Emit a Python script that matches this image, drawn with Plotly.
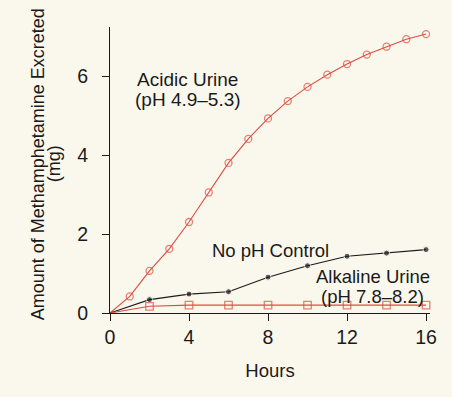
import plotly.graph_objects as go

# Data (hours, mg)
acid_hours = [0, 1, 2, 3, 4, 5, 6, 7, 8, 9, 10, 11, 12, 13, 14, 15, 16]
acid_mg = [0, 0.42, 1.07, 1.63, 2.31, 3.06, 3.81, 4.42, 4.94, 5.38, 5.74, 6.05, 6.32, 6.56, 6.76, 6.95, 7.08]

noctl_hours = [0, 2, 4, 6, 8, 10, 12, 14, 16]
noctl_mg = [0, 0.34, 0.48, 0.54, 0.91, 1.20, 1.44, 1.52, 1.61]

alk_hours = [0, 2, 4, 6, 8, 10, 12, 14, 16]
alk_mg = [0, 0.17, 0.20, 0.20, 0.20, 0.20, 0.20, 0.20, 0.20]

x_ticks = [0, 4, 8, 12, 16]
y_ticks = [0, 2, 4, 6]

RED = "#df4b40"
BLACK = "#1a1a1a"
BG = "#faf8ec"
FONT = "Liberation Sans, Arial, sans-serif"

def sizes(n, s):
    return [0] + [s] * (n - 1)

fig = go.Figure()
fig.add_trace(go.Scatter(
    x=acid_hours, y=acid_mg, mode="lines+markers",
    line=dict(color=RED, width=1.1),
    marker=dict(symbol="circle-open", size=sizes(len(acid_hours), 7),
                color=RED, line=dict(width=1.3, color=RED)),
    cliponaxis=False, showlegend=False))
fig.add_trace(go.Scatter(
    x=noctl_hours, y=noctl_mg, mode="lines+markers",
    line=dict(color=BLACK, width=1.1),
    marker=dict(symbol="circle", size=sizes(len(noctl_hours), 6), color=BLACK),
    cliponaxis=False, showlegend=False))
fig.add_trace(go.Scatter(
    x=alk_hours, y=alk_mg, mode="lines+markers",
    line=dict(color=RED, width=1.1),
    marker=dict(symbol="square-open", size=sizes(len(alk_hours), 7.5),
                color=RED, line=dict(width=1.3, color=RED)),
    cliponaxis=False, showlegend=False))

def label(text, x, y, size):
    fig.add_annotation(text=text, x=x, y=y, xref="x", yref="y",
                       xanchor="left", yanchor="middle", showarrow=False,
                       font=dict(family=FONT, size=size, color=BLACK))

label("Acidic Urine", 1.28, 5.93, 19)
label("(pH 4.9–5.3)", 1.18, 5.42, 19)
label("No pH Control", 5.05, 1.58, 18.5)
label("Alkaline Urine", 10.35, 0.93, 18.5)
label("(pH 7.8–8.2)", 10.6, 0.42, 18.5)

# y-axis title lines
fig.add_annotation(text="Amount of Methamphetamine Excreted", xref="paper", yref="paper",
                   x=-0.225, y=0.52, textangle=-90, showarrow=False,
                   xanchor="center", yanchor="middle",
                   font=dict(family=FONT, size=18, color=BLACK))
fig.add_annotation(text="(mg)", xref="paper", yref="paper",
                   x=-0.175, y=0.52, textangle=-90, showarrow=False,
                   xanchor="center", yanchor="middle",
                   font=dict(family=FONT, size=18, color=BLACK))

fig.update_layout(
    width=452, height=397,
    margin=dict(l=110, r=22, t=27, b=84),
    paper_bgcolor=BG, plot_bgcolor=BG,
    font=dict(family=FONT, size=19.5, color=BLACK),
    xaxis=dict(range=[0, 16.2], tickvals=x_ticks, ticks="outside", ticklen=7,
               tickwidth=1, tickcolor=BLACK, showline=True, linecolor=BLACK,
               linewidth=1, showgrid=False, zeroline=False,
               title=dict(text="Hours", font=dict(size=18.5), standoff=16)),
    yaxis=dict(range=[0, 7.26], tickvals=y_ticks, ticks="outside", ticklen=7,
               tickwidth=1, tickcolor=BLACK, showline=True, linecolor=BLACK,
               linewidth=1, showgrid=False, zeroline=False,
               ticklabelstandoff=10),
)

fig.write_html(
    "out.html",
    config={"displayModeBar": False},
    post_script="document.body.style.margin='0';document.body.style.background='" + BG + "';",
)
